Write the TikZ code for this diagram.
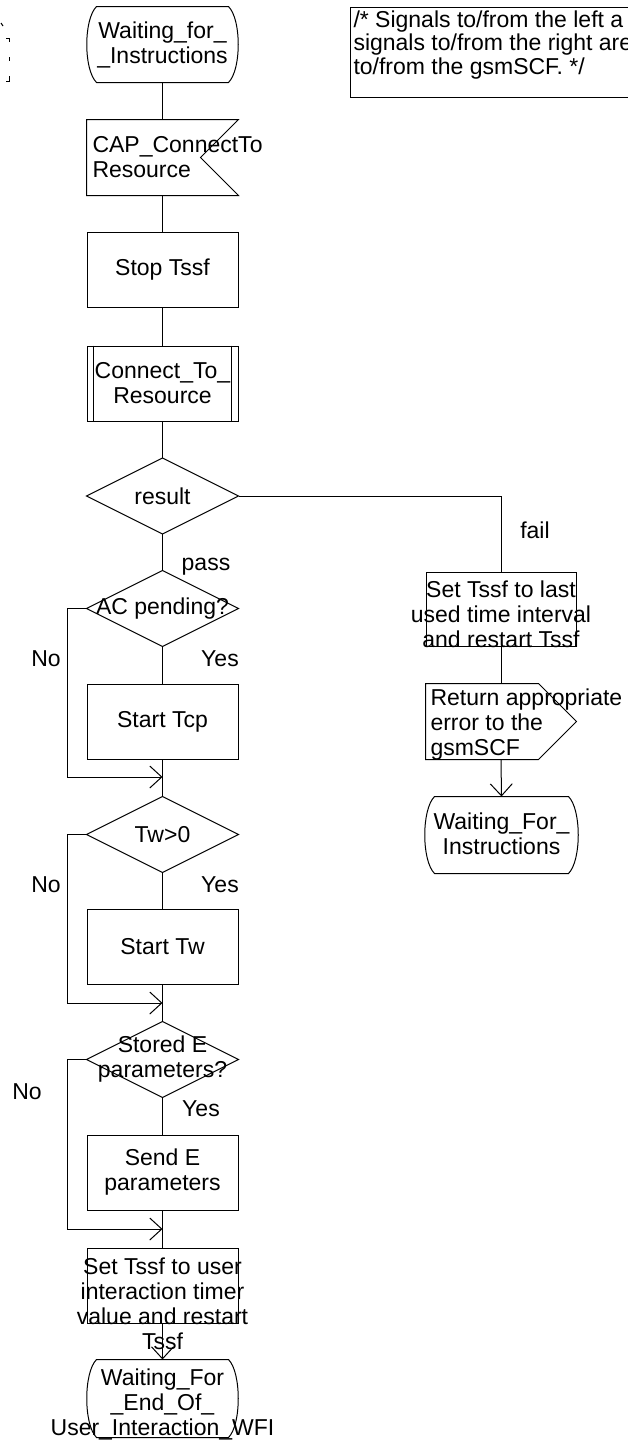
\documentclass[tikz,border=0pt]{standalone}
\usepackage{fontspec}
\setmainfont{Liberation Sans}
\usetikzlibrary{arrows.meta,calc}
\newcommand\sdlstate[1]{\draw ([xshift=10pt]#1.north west) -- ([xshift=-10pt]#1.north east) .. controls ([xshift=3pt,yshift=-13pt]#1.north east) and ([xshift=3pt,yshift=13pt]#1.south east) .. ([xshift=-10pt]#1.south east) -- ([xshift=10pt]#1.south west) .. controls ([xshift=-3pt,yshift=13pt]#1.south west) and ([xshift=-3pt,yshift=-13pt]#1.north west) .. cycle;}
\newcommand\sdldecision[1]{\draw (#1.north) -- (#1.east) -- (#1.south) -- (#1.west) -- cycle;}
\begin{document}
\begin{tikzpicture}[x=1pt,y=-1pt,line width=1pt,
  every node/.style={font=\fontsize{23}{25}\selectfont, inner sep=0pt, align=center},
  box/.style={draw, minimum width=151pt, minimum height=75pt},
  frame/.style={minimum width=151pt, minimum height=75pt},
  arr/.style={-{Straight Barb[length=12pt,width=22pt]}}]
\useasboundingbox (0,0) rectangle (628,1443);
\clip (0,0) rectangle (628,1443);
\fill[white] (0,0) rectangle (628,1443);

% left-edge fragment
\draw (1,23) -- (3,26);
\draw (6,38) -- (9,38) -- (9,42);
\draw (9,57) -- (9,61);
\draw (9,76) -- (9,81) -- (6,81);

% comment
\draw (350,7) rectangle (640,97);
\node[anchor=base west] (c1) at (353,27) {/* Signals to/from the left a};
\node[anchor=base west] (c2) at (353,50) {signals to/from the right are};
\node[anchor=base west] (c3) at (353,74) {to/from the gsmSCF. */};

% main column
\node[frame] (s0) at (162.5,44.5) {Waiting\_for\_\\\_Instructions};
\sdlstate{s0}
\node[frame] (in1) at (162.5,157.5) {};
\draw (in1.north west) -- (in1.north east) -- ([xshift=-38pt]in1.east) -- (in1.south east) -- (in1.south west) -- cycle;
\node[anchor=west, align=left] (in1t) at (92,157.5) {CAP\_ConnectTo\\Resource};
\node[box] (t1) at (162.5,269.5) {Stop Tssf};
\node[box] (p1) at (162.5,383.5) {Connect\_To\_\\Resource};
\draw ([xshift=7pt]p1.north west) -- ([xshift=7pt]p1.south west);
\draw ([xshift=-7pt]p1.north east) -- ([xshift=-7pt]p1.south east);
\node[frame] (d1) at (162.5,496) {result};
\sdldecision{d1}
\node[frame] (d2) at (162.5,608.5) {AC pending?};
\sdldecision{d2}
\node[box] (t2) at (162.5,721.5) {Start Tcp};
\coordinate (j1) at (162.5,777);
\node[frame] (d3) at (162.5,834.5) {Tw>0};
\sdldecision{d3}
\node[box] (t3) at (162.5,946.5) {Start Tw};
\coordinate (j2) at (162.5,1003);
\node[frame] (d4) at (162.5,1059.5) {Stored E\\parameters?};
\sdldecision{d4}
\node[box] (t4) at (162.5,1172.5) {Send E\\parameters};
\coordinate (j3) at (162.5,1229);
\node[box] (t5) at (162.5,1285.5) {};
\node (t5t) at (162.5,1304) {Set Tssf to user\\interaction timer\\value and restart\\Tssf};
\node[frame, minimum height=77pt] (s1) at (162.5,1398.5) {};
\sdlstate{s1}
\node (s1t) at (162.5,1404) {Waiting\_For\\\_End\_Of\_\\User\_Interaction\_WFI};

% right column
\node[box, minimum width=150pt, minimum height=74pt] (t6) at (501,609) {};
\node (t6t) at (501,614) {Set Tssf to last\\used time interval\\and restart Tssf};
\node[frame, minimum width=150pt] (o1) at (501,721.5) {};
\draw (o1.north west) -- ([xshift=-38pt]o1.north east) -- (o1.east) -- ([xshift=-38pt]o1.south east) -- (o1.south west) -- cycle;
\node[anchor=west, align=left] (o1t) at (430,725) {Return appropriate\\error to the\\gsmSCF};
\node[frame, minimum width=153pt, minimum height=76pt] (s2) at (501.5,835) {};
\sdlstate{s2}
\node (s2t) at (501.5,834) {Waiting\_For\_\\Instructions};

% labels
\node (lfail) at (535,530) {fail};
\node (lpass) at (206,567) {pass};
\node (lno1) at (46,659) {No};
\node (lyes1) at (220,659) {Yes};
\node (lno2) at (46,885) {No};
\node (lyes2) at (220,885) {Yes};
\node (lno3) at (27,1092) {No};
\node (lyes3) at (201,1109) {Yes};

% connectors
\draw (s0.south) -- (in1.north);
\draw (in1.south) -- (t1.north);
\draw (t1.south) -- (p1.north);
\draw (p1.south) -- (d1.north);
\draw (d1.south) -- (d2.north);
\draw (d2.south) -- (t2.north);
\draw (t2.south) -- (d3.north);
\draw[arr] (d2.west) -- ++(-19,0) |- (j1);
\draw (d3.south) -- (t3.north);
\draw (t3.south) -- (d4.north);
\draw[arr] (d3.west) -- ++(-19,0) |- (j2);
\draw (d4.south) -- (t4.north);
\draw (t4.south) -- (t5.north);
\draw[arr] (d4.west) -- ++(-19,0) |- (j3);
\draw[arr] (t5.south) -- (s1.north);
\draw (d1.east) -| (t6.north);
\draw (t6.south) -- (o1.north);
\draw[arr] (o1.south) -- (s2.north);
\end{tikzpicture}
\end{document}
